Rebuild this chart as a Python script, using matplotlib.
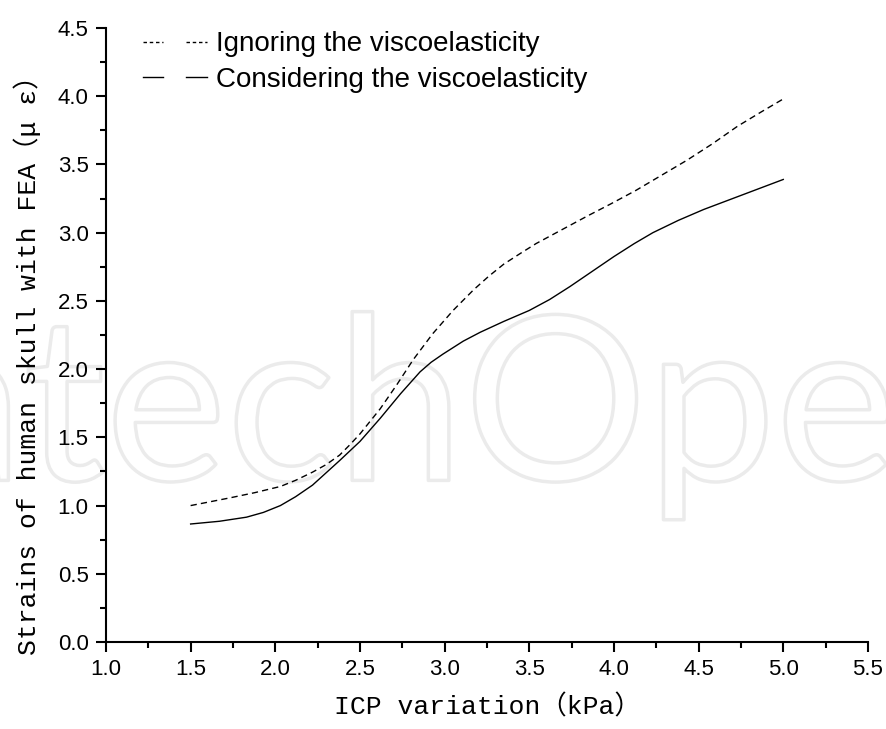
import matplotlib
matplotlib.use("Agg")
import matplotlib.pyplot as plt
import matplotlib.patheffects as pe
from matplotlib.lines import Line2D
from matplotlib.legend_handler import HandlerTuple
from matplotlib.ticker import MultipleLocator, FormatStrFormatter

# ICP variation (kPa) and strains, ignoring the viscoelasticity
icp_ignore = [1.5, 1.73, 1.88, 2.03, 2.12, 2.22, 2.30, 2.38, 2.44, 2.50, 2.62, 2.72, 2.815,
              2.93, 3.05, 3.17, 3.26, 3.35, 3.45, 3.54, 3.69, 3.84, 3.98, 4.13, 4.28, 4.43,
              4.58, 4.73, 4.87, 5.0]
strain_ignore = [1.00, 1.056, 1.095, 1.14, 1.185, 1.245, 1.30, 1.37, 1.445, 1.525, 1.71, 1.89,
                 2.07, 2.26, 2.43, 2.58, 2.68, 2.77, 2.85, 2.92, 3.02, 3.12, 3.21, 3.31, 3.42,
                 3.53, 3.65, 3.78, 3.885, 3.98]
# ICP variation (kPa) and strains, considering the viscoelasticity
icp_consider = [1.5, 1.67, 1.83, 1.93, 2.03, 2.12, 2.22, 2.30, 2.38, 2.50, 2.62, 2.74, 2.855,
                2.92, 2.99, 3.11, 3.21, 3.35, 3.50, 3.62, 3.74, 3.87, 4.0, 4.12, 4.23, 4.38,
                4.53, 4.765, 5.0]
strain_consider = [0.865, 0.885, 0.915, 0.95, 1.00, 1.065, 1.15, 1.24, 1.33, 1.47, 1.64, 1.82,
                   1.98, 2.05, 2.11, 2.205, 2.27, 2.35, 2.43, 2.51, 2.605, 2.715, 2.825, 2.92,
                   3.00, 3.09, 3.17, 3.28, 3.39]

labels = ['Ignoring the viscoelasticity', 'Considering the viscoelasticity']
xlabel = 'ICP variation（kPa）'
ylabel = 'Strains of human skull with FEA（μ ε）'

plt.rcParams['font.family'] = ['Liberation Sans', 'DejaVu Sans']

fig = plt.figure(figsize=(8.86, 7.29), dpi=100)

# watermark in the background (outline only)
fig.text(0.483, 0.341, 'IntechOpen', fontsize=165, family='Lato', color='none',
         ha='center', va='baseline', zorder=-1,
         path_effects=[pe.withStroke(linewidth=2.5, foreground='#ebebeb')])

ax = fig.add_axes([0.1196, 0.1193, 0.8600, 0.8423])
ax.patch.set_alpha(0)

ax.plot(icp_ignore, strain_ignore, color='black', lw=1.0, dashes=(4.5, 3))
ax.plot(icp_consider, strain_consider, color='black', lw=1.0)

ax.set_xlim(1.0, 5.5)
ax.set_ylim(0.0, 4.5)
ax.xaxis.set_major_locator(MultipleLocator(0.5))
ax.xaxis.set_minor_locator(MultipleLocator(0.25))
ax.yaxis.set_major_locator(MultipleLocator(0.5))
ax.yaxis.set_minor_locator(MultipleLocator(0.25))
ax.xaxis.set_major_formatter(FormatStrFormatter('%.1f'))
ax.yaxis.set_major_formatter(FormatStrFormatter('%.1f'))

for s in ['top', 'right']:
    ax.spines[s].set_visible(False)
for s in ['left', 'bottom']:
    ax.spines[s].set_linewidth(1.5)
ax.tick_params(which='major', direction='out', length=7.5, width=1.5, labelsize=16, pad=5)
ax.tick_params(which='minor', direction='out', length=4.5, width=1.5)

lab_font = ['Liberation Mono', 'Noto Sans CJK SC']
ax.set_xlabel(xlabel, fontsize=19, family=lab_font)
ax.set_ylabel(ylabel, fontsize=19, family=lab_font)
ax.xaxis.set_label_coords(0.5, -0.085)
ax.yaxis.set_label_coords(-0.085, 0.462)

# legend with split handles like Origin
h1 = (Line2D([], [], color='black', lw=1.0, dashes=(2.5, 2)),
      Line2D([], [], color='black', lw=1.0, dashes=(2.5, 2)))
h2 = (Line2D([], [], color='black', lw=1.0), Line2D([], [], color='black', lw=1.0))
ax.legend([h1, h2], labels, handler_map={tuple: HandlerTuple(ndivide=None, pad=0.83)},
          loc='upper left', bbox_to_anchor=(0.1614, 0.957), bbox_transform=fig.transFigure,
          frameon=False, fontsize=20, handlelength=2.3, handletextpad=0.32,
          labelspacing=0.33, borderpad=0, borderaxespad=0)

fig.savefig('out.png', dpi=100)
